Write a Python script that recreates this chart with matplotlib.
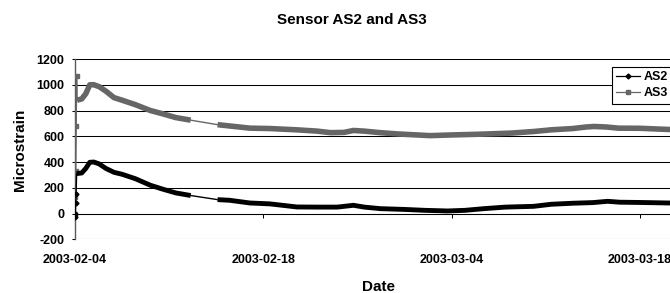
import numpy as np
import pandas as pd
import matplotlib
matplotlib.use("Agg")
from matplotlib import pyplot as plt
import matplotlib.dates as mdates
from matplotlib.lines import Line2D

plt.rcParams['font.family'] = ['Liberation Sans', 'DejaVu Sans']
plt.rcParams['font.weight'] = 'bold'
plt.rcParams['axes.unicode_minus'] = False

start = pd.Timestamp("2003-02-04")

# days after 2003-02-04
as3_days = [0.00, 0.03, 0.06, 0.09, 0.12, 0.15, 0.5, 0.8, 1.1, 1.4, 1.8, 2.3, 2.9, 3.5,
            4.5, 5.6, 6.5, 7.5, 8.6,
            10.6, 11.5, 13.0, 14.5, 16.5, 18.0, 19.0, 20.0, 20.7, 21.5, 22.7, 24.0,
            26.4, 27.9, 30.4, 32.5, 34.1, 35.4, 37.0, 38.0, 38.6, 39.5, 40.4, 42.0,
            44.1, 45.0]
as3_vals = [0, 128, 334, 681, 1065, 880, 890, 930, 1000, 1000, 985, 950, 900, 880,
            845, 800, 775, 745, 725,
            690, 680, 663, 660, 650, 640, 628, 630, 645, 640, 628, 618,
            605, 610, 617, 625, 637, 650, 660, 672, 676, 672, 663, 662,
            653, 652]

as2_days = [0.00, 0.03, 0.05, 0.08, 0.12, 0.5, 0.8, 1.1, 1.4, 1.8, 2.3, 2.9, 3.5,
            4.5, 5.6, 6.5, 7.5, 8.6,
            10.6, 11.5, 13.0, 14.5, 16.5, 18.0, 19.5, 20.7, 21.5, 22.7, 24.5, 26.0,
            27.7, 29.0, 30.4, 32.0, 34.1, 35.4, 37.0, 38.5, 39.6, 40.5, 42.0, 44.1,
            45.0]
as2_vals = [-30, 0, 80, 150, 310, 315, 350, 398, 400, 385, 350, 320, 305,
            270, 220, 190, 160, 140,
            108, 103, 82, 75, 51, 50, 50, 64, 50, 38, 32, 25,
            20, 25, 38, 50, 56, 72, 80, 85, 95, 88, 86, 82,
            82]

tick_dates = ["2003-02-04", "2003-02-18", "2003-03-04", "2003-03-18"]

as3_t = start + pd.to_timedelta(as3_days, unit="D")
as2_t = start + pd.to_timedelta(as2_days, unit="D")

fig = plt.figure(figsize=(6.7, 2.93), dpi=100)
ax = fig.add_axes([75/670, 53.7/293, 606/670, 180.3/293])

c2 = "black"
c3 = "#666666"

# thin connecting lines (gaps in the record show as thin lines)
ax.plot(as3_t, as3_vals, color=c3, lw=1.0, zorder=3)
ax.plot(as2_t, as2_vals, color=c2, lw=1.0, zorder=4)
# the first readings show as separate markers
ax.plot(as3_t[:5], as3_vals[:5], ls="none", color=c3, marker="s", ms=2.5, zorder=3)
ax.plot(as2_t[:4], as2_vals[:4], ls="none", color=c2, marker="D", ms=2.5, zorder=4)
# dense parts of the record look like a thick band
i3 = as3_days.index(8.6)
j3 = as3_days.index(10.6)
i2 = as2_days.index(8.6)
j2 = as2_days.index(10.6)
ax.plot(as3_t[5:i3+1], as3_vals[5:i3+1], color=c3, lw=4.0, solid_capstyle="butt", zorder=3)
ax.plot(as3_t[j3:], as3_vals[j3:], color=c3, lw=4.0, solid_capstyle="butt", zorder=3)
ax.plot(as2_t[4:i2+1], as2_vals[4:i2+1], color=c2, lw=3.5, solid_capstyle="butt", zorder=4)
ax.plot(as2_t[j2:], as2_vals[j2:], color=c2, lw=3.5, solid_capstyle="butt", zorder=4)

ax.set_ylim(-200, 1200)
ax.set_yticks(np.arange(-200, 1201, 200))
ax.set_xlim(start, start + pd.Timedelta(days=606/13.45))
ax.set_xticks(pd.to_datetime(tick_dates))
ax.xaxis.set_major_formatter(mdates.DateFormatter("%Y-%m-%d"))

ax.grid(axis="y", color="black", lw=0.75)
ax.set_axisbelow(True)
for s in ["top", "right"]:
    ax.spines[s].set_visible(False)
ax.spines["left"].set_color("0.35")
ax.spines["left"].set_linewidth(1.0)
ax.spines["bottom"].set_position(("data", 0))
ax.spines["bottom"].set_color("black")
ax.spines["bottom"].set_linewidth(0.75)

ax.tick_params(axis="y", direction="out", length=2.5, width=0.75, pad=5, labelsize=9)
ax.tick_params(axis="x", direction="out", length=3, width=0.75, pad=26, labelsize=9)
for lab in ax.get_xticklabels() + ax.get_yticklabels():
    lab.set_fontweight("bold")

fig.text(352/670, 1 - 24/293, "Sensor AS2 and AS3", ha="center", va="baseline",
         fontsize=11, fontweight="bold")
fig.text(20/670, 1 - 150/293, "Microstrain", ha="center", va="center", rotation=90,
         fontsize=11, fontweight="bold")
fig.text(378/670, 2/293, "Date", ha="center", va="baseline", fontsize=11, fontweight="bold")

handles = [Line2D([], [], color=c2, lw=0.9, marker="D", ms=2.5),
           Line2D([], [], color=c3, lw=0.9, marker="s", ms=2.5)]
leg = fig.legend(handles, ["AS2", "AS3"], loc="upper left",
                 bbox_to_anchor=(612/670, 1 - 66.7/293), bbox_transform=fig.transFigure,
                 borderaxespad=0, fancybox=False, framealpha=1, edgecolor="black",
                 handlelength=1.9, handletextpad=0.25, borderpad=0.35,
                 labelspacing=0.35, prop={"weight": "bold", "size": 9})
leg.get_frame().set_linewidth(0.8)

fig.savefig("out.png", dpi=100)
